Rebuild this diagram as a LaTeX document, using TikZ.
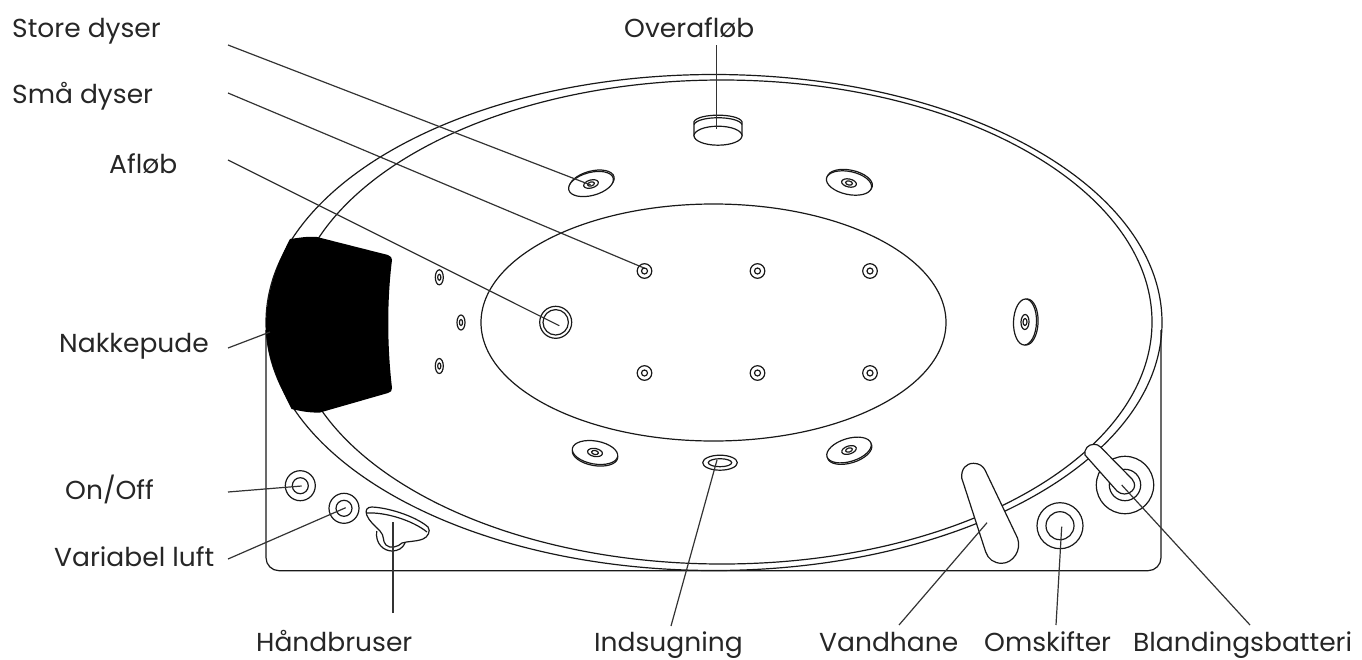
\documentclass[tikz,border=0pt]{standalone}
\usepackage{fontspec}
\setmainfont{Poppins}[FakeStretch=1.02]
\usetikzlibrary{positioning}
\tikzset{
part/.style={line width=1.2pt, draw=black!90, fill=white}, % outlines of the tub parts
rim/.style={line width=1.2pt, draw=black!90},
leader/.style={line width=1.2pt, draw=black!80}, % the thin lines to the labels
txt/.style={anchor=base west, inner sep=0pt, font=\fontsize{26}{30}\selectfont, text=black!85},
}
\def\outerellip{(714,322.5) ellipse [x radius=448, y radius=248]}
\def\innerellip{(722,322) ellipse [x radius=430, y radius=242]}
\def\basin{(713.5,322.5) ellipse [x radius=232.5, y radius=118.5]}
% x, y, rotation, offset of the edge behind
\newcommand{\bigjet}[5]{
    \draw[part] (#1+#4,#2+#5) ellipse [x radius=23, y radius=11.5, rotate=#3];
    \draw[part] (#1,#2) ellipse [x radius=23, y radius=11.5, rotate=#3];
    \draw[rim] (#1,#2) ellipse [x radius=7.5, y radius=4, rotate=#3];
    \draw[rim] (#1,#2) ellipse [x radius=3.5, y radius=2, rotate=#3];
}
\begin{document}
\begin{tikzpicture}[x=1pt, y=-1pt]
    \useasboundingbox (0,0) rectangle (1362,659);

    \draw[rim, rounded corners=13pt] (266,330) -- (266,570.7) -- (1161,570.7) -- (1161,330);
    \draw[rim] \outerellip;
    \draw[rim] \innerellip;
    \draw[rim] \basin;

    %neck pillow
    \fill[black] (290,239) .. controls (298,238) and (308,236) .. (317,237)
        -- (388,255) .. controls (391,256) and (392,258) .. (392,260)
        .. controls (387,300) and (387,345) .. (392,388)
        .. controls (392,391) and (391,392) .. (388,393)
        -- (320,412.5) .. controls (310,413) and (300,411) .. (291.5,409)
        .. controls (277,380) and (266,355) .. (266,326)
        .. controls (266,295) and (275,268) .. (290,239) -- cycle;

    %small jets
    \foreach \x/\y in {439.3/277.3, 461/322.5, 439.3/366} {
        \draw[rim] (\x,\y) ellipse [x radius=4, y radius=7.5];
        \draw[rim] (\x,\y) ellipse [x radius=1.6, y radius=3];
    }
    \foreach \x in {644.5, 757.5, 870} {
        \foreach \y in {271, 373} {
            \draw[rim] (\x,\y) circle (7.3);
            \draw[rim] (\x,\y) circle (3);
        }
    }

    %big jets
    \bigjet{591}{184}{15}{0.8}{-1.4}
    \bigjet{849}{183}{-12}{0.8}{-1.4}
    \bigjet{1025}{322}{88}{1.6}{0}
    \bigjet{595}{452.5}{-10}{0}{1.6}
    \bigjet{849}{450}{17}{0.6}{1.5}

    %drain and intake
    \draw[rim] (555.7,322.3) circle (16);
    \draw[rim] (555.7,322.3) circle (12.7);
    \draw[rim] (720,462.7) ellipse [x radius=17.3, y radius=7.5];
    \draw[rim] (720,462.7) ellipse [x radius=11.7, y radius=4];

    %overflow
    \draw[part] (694,121.7) .. controls (698,113) and (738,113) .. (742,121.7)
        -- (742,135.7) -- (694,135.7) -- cycle;
    \draw[rim] (694,124.5) .. controls (698,115.5) and (738,115.5) .. (742,124.5);
    \draw[part] (718,135.7) ellipse [x radius=24, y radius=9.5];

    %buttons
    \foreach \x/\y/\ra/\rb in {300.3/485.7/15/8, 344/508.3/15/8, 1060/525.7/23/14, 1125/485/28.7/15.7} {
        \draw[rim] (\x,\y) circle (\ra);
        \draw[rim] (\x,\y) circle (\rb);
    }

    %hand shower
    \draw[part] (376.7,531) .. controls (375,544) and (384,551) .. (392,551)
        .. controls (398,551) and (403,548) .. (405,543);
    \draw[part] (366.7,515) .. controls (365,510) and (367,507) .. (372,507)
        .. controls (392,508) and (418,518) .. (428,527)
        .. controls (431,531) and (428,537) .. (423,539)
        .. controls (415,542) and (408,541) .. (402,543)
        .. controls (398,547) and (390,549) .. (386,545)
        .. controls (382,541) and (385,536) .. (380,531)
        .. controls (375,526) and (369,521) .. (366.7,515) -- cycle;
    \draw[rim] (367,513) .. controls (385,512) and (412,520) .. (427,532);

    %tap
    \draw[part] (961.7,478) .. controls (961,469) and (966,463.3) .. (973.5,463.3)
        .. controls (979,463.3) and (983,466) .. (985,470)
        -- (1017.5,538) .. controls (1022,550) and (1013,563.3) .. (1001.7,563.3)
        .. controls (994,563.3) and (988,559) .. (985.7,552) -- cycle;

    %mixer handle
    \draw[part] (1085,455) .. controls (1084,449) and (1088,444.3) .. (1094,444.3)
        .. controls (1096,444.3) and (1099,445) .. (1100.5,447)
        -- (1132,479) .. controls (1136,484) and (1135,488) .. (1132,491)
        .. controls (1128,495) and (1121,495) .. (1117,491)
        -- (1085,455) -- cycle;

    % where the lines end
    \coordinate (storeA) at (228,45);
    \coordinate (jetTL) at (590.7,185);
    \coordinate (smaaA) at (228,93);
    \coordinate (nozzle) at (644,268);
    \coordinate (afloebA) at (228,160);
    \coordinate (drain) at (559.3,325.7);
    \coordinate (nakkeA) at (228,348);
    \coordinate (pillow) at (270,332);
    \coordinate (onoffA) at (228,492);
    \coordinate (onoff) at (301.7,486);
    \coordinate (luftA) at (228,559);
    \coordinate (luft) at (345.7,507.7);
    \coordinate (brusA) at (393,613);
    \coordinate (brus) at (393,522.3);
    \coordinate (sugA) at (671,626);
    \coordinate (sug) at (717,460);
    \coordinate (haneA) at (899,625);
    \coordinate (hane) at (987,522.7);
    \coordinate (skiftA) at (1056,625);
    \coordinate (skift) at (1061.7,526.7);
    \coordinate (blandA) at (1250,625);
    \coordinate (bland) at (1121.7,485);
    \coordinate (overA) at (716.7,45);
    \coordinate (over) at (716.7,129);

    \foreach \a/\b in {storeA/jetTL, smaaA/nozzle, afloebA/drain, nakkeA/pillow, onoffA/onoff,
        luftA/luft, brusA/brus, sugA/sug, haneA/hane, skiftA/skift, blandA/bland, overA/over} {
        \draw[leader] (\a) -- (\b);
    }

    \node[txt] (store) at (12,37) {Store dyser};
    \node[txt] (smaa) at (12,103) {Små dyser};
    \node[txt] (afloeb) at (109,173) {Afløb};
    \node[txt] (nakke) at (59,352) {Nakkepude};
    \node[txt] (onofflabel) at (65,499.3) {On/Off};
    \node[txt] (luftlabel) at (54,566.7) {Variabel luft};
    \node[txt] (overlabel) at (624,37) {Overafløb};
    \node[txt] (bruser) at (256,651.5) {Håndbruser};
    \node[txt] (sugning) at (594,651.5) {Indsugning};
    \node[txt] (vandhane) at (819,651.5) {Vandhane};
    \node[txt] (omskifter) at (984,651.5) {Omskifter};
    \node[txt] (batteri) at (1133,651.5) {Blandingsbatteri};
\end{tikzpicture}
\end{document}
